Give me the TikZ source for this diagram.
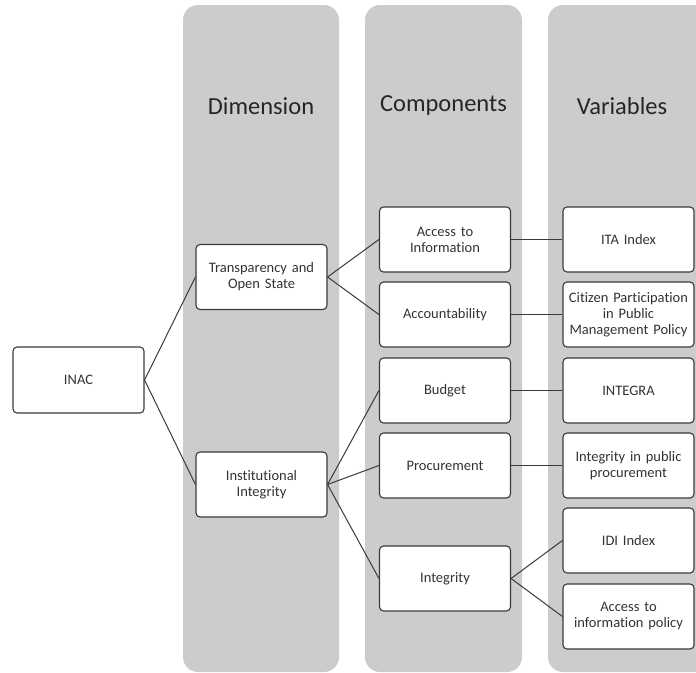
\documentclass[tikz,border=0pt]{standalone}
\usepackage{fontspec}
\setmainfont{Carlito}[Ligatures={NoCommon,NoContextual}]
\begin{document}
\begin{tikzpicture}[x=1pt,y=-1pt,
  header/.style={font=\fontsize{24.5}{28}\selectfont,text=black!85},
  box/.style={draw=boxline,line width=1.1pt,fill=white,rounded corners=4pt,
    minimum width=131pt,minimum height=65pt,align=center,inner sep=2pt,
    text width=127pt,font=\fontsize{14.5}{16}\selectfont,text=black!80},
  link/.style={draw=boxline,line width=1pt}]
\definecolor{colgray}{HTML}{CCCCCC}
\definecolor{boxline}{HTML}{3A3A3A}
\useasboundingbox (0,0) rectangle (696,672);
\clip (0,0) rectangle (696,672);
% columns
\fill[colgray,rounded corners=15pt] (183,5) rectangle (339,672);
\fill[colgray,rounded corners=15pt] (365,5) rectangle (522,672);
\fill[colgray,rounded corners=15pt] (548,5) rectangle (715,672);
% headers
\node[header] (hdim) at (261,106) {Dimension};
\node[header] (hcomp) at (443.5,106) {Components};
\node[header] (hvar) at (622,106) {Variables};
% boxes
\node[box,minimum height=66pt] (inac) at (78.5,380) {INAC};
\node[box] (tos) at (261.5,277) {Transparency and\\Open State};
\node[box] (ii) at (261.5,484.5) {Institutional\\Integrity};
\node[box] (ati) at (445,239.5) {Access to\\Information};
\node[box] (acc) at (445,314.5) {Accountability};
\node[box] (bud) at (445,390.5) {Budget};
\node[box] (proc) at (445,465.5) {Procurement};
\node[box] (integ) at (445,578.5) {Integrity};
\node[box] (ita) at (628.5,239.5) {ITA Index};
\node[box] (cit) at (628.5,314.5) {Citizen Participation\\in Public\\Management Policy};
\node[box] (intg) at (628.5,390.5) {INTEGRA};
\node[box] (ipp) at (628.5,465.5) {Integrity in public\\procurement};
\node[box] (idi) at (628.5,540.5) {IDI Index};
\node[box] (aip) at (628.5,616.5) {Access to\\information policy};
% connectors
\draw[link] (inac.east) -- (tos.west);
\draw[link] (inac.east) -- (ii.west);
\draw[link] (tos.east) -- (ati.west);
\draw[link] (tos.east) -- (acc.west);
\draw[link] (ii.east) -- (bud.west);
\draw[link] (ii.east) -- (proc.west);
\draw[link] (ii.east) -- (integ.west);
\draw[link] (ati.east) -- (ita.west);
\draw[link] (acc.east) -- (cit.west);
\draw[link] (bud.east) -- (intg.west);
\draw[link] (proc.east) -- (ipp.west);
\draw[link] (integ.east) -- (idi.west);
\draw[link] (integ.east) -- (aip.west);
\end{tikzpicture}
\end{document}
